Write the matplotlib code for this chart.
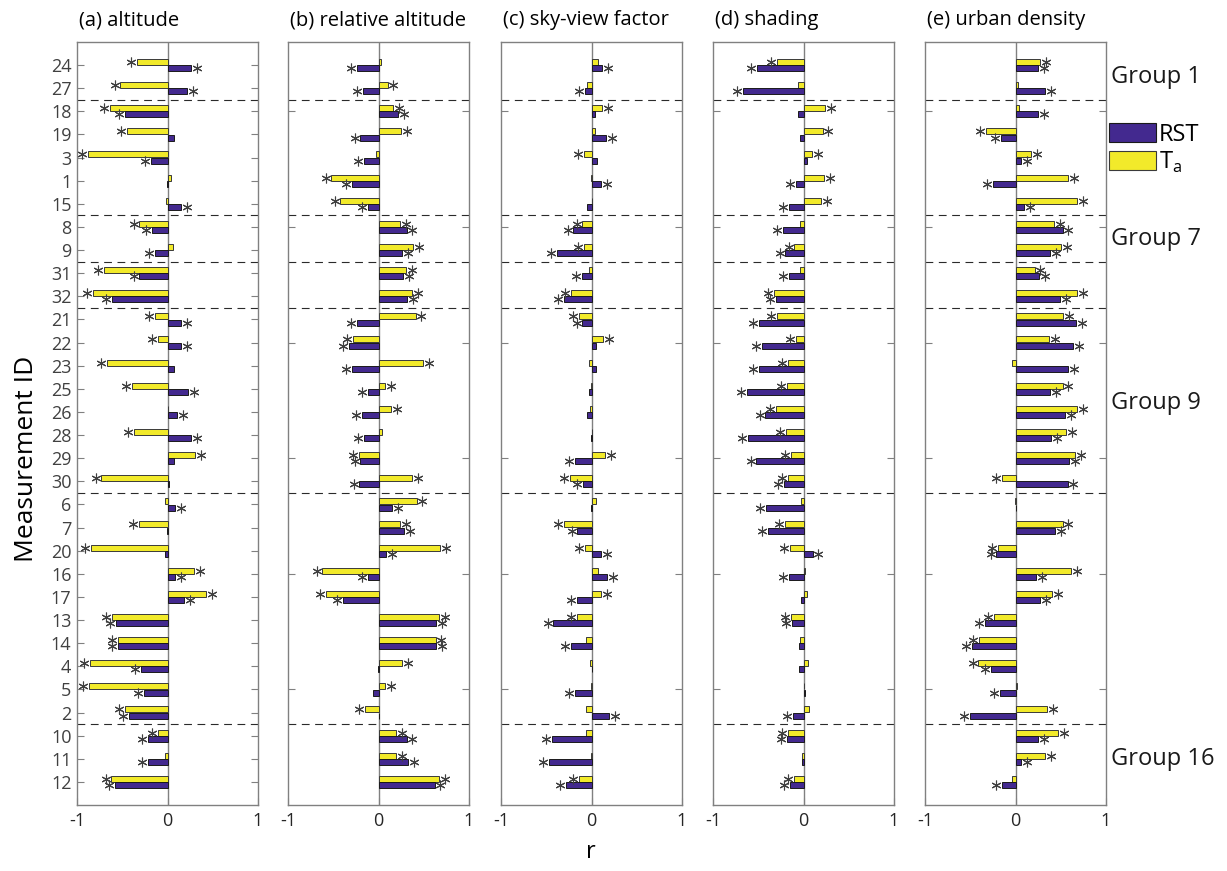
import matplotlib
matplotlib.use('Agg')
import matplotlib.pyplot as plt
from matplotlib.patches import Patch

plt.rcParams['font.family'] = ['Open Sans', 'DejaVu Sans']

ids = [24, 27, 18, 19, 3, 1, 15, 8, 9, 31, 32, 21, 22, 23, 25, 26,
       28, 29, 30, 6, 7, 20, 16, 17, 13, 14, 4, 5, 2, 10, 11, 12]

titles = ['(a) altitude', '(b) relative altitude', '(c) sky-view factor',
          '(d) shading', '(e) urban density']

# correlation with air temperature (Ta)
ta_a = [-0.34, -0.52, -0.64, -0.45, -0.88, 0.04, -0.015, -0.31, 0.06, -0.70, -0.82, -0.14, -0.11, -0.67, -0.39, 0.005,
        -0.37, 0.30, -0.73, -0.03, -0.32, -0.85, 0.29, 0.43, -0.61, -0.55, -0.86, -0.87, -0.47, -0.11, -0.03, -0.62]
ta_b = [0.03, 0.10, 0.16, 0.25, -0.03, -0.52, -0.42, 0.24, 0.38, 0.30, 0.37, 0.41, -0.28, 0.49, 0.07, 0.14,
        0.04, -0.22, 0.37, 0.42, 0.24, 0.68, -0.62, -0.58, 0.67, 0.63, 0.26, 0.07, -0.15, 0.19, 0.19, 0.67]
ta_c = [0.07, -0.055, 0.12, 0.04, -0.085, -0.01, 0.01, -0.10, -0.085, -0.025, -0.23, -0.14, 0.13, -0.025, -0.004, -0.02,
        0.01, 0.15, -0.24, 0.05, -0.30, -0.07, 0.07, 0.11, -0.16, -0.06, -0.015, -0.008, -0.06, -0.06, -0.004, -0.14]
ta_d = [-0.29, -0.06, 0.24, 0.21, 0.09, 0.23, 0.19, -0.04, -0.10, -0.04, -0.33, -0.29, -0.08, -0.17, -0.18, -0.305,
        -0.19, -0.14, -0.17, -0.025, -0.205, -0.15, 0.015, 0.04, -0.14, -0.04, 0.05, 0.01, 0.06, -0.17, -0.015, -0.11]
ta_e = [0.275, 0.03, 0.04, -0.33, 0.17, 0.58, 0.685, 0.43, 0.50, 0.21, 0.68, 0.53, 0.37, -0.035, 0.52, 0.68,
        0.56, 0.655, -0.15, -0.01, 0.52, -0.19, 0.61, 0.40, -0.235, -0.40, -0.41, 0.02, 0.345, 0.47, 0.33, -0.035]

# correlation with road surface temperature (RST)
rst_a = [0.26, 0.22, -0.47, 0.07, -0.18, -0.01, 0.15, -0.17, -0.14, -0.31, -0.61, 0.15, 0.15, 0.07, 0.23, 0.11,
         0.26, 0.07, 0.015, 0.08, -0.005, -0.03, 0.08, 0.18, -0.57, -0.55, -0.29, -0.26, -0.43, -0.22, -0.22, -0.58]
rst_b = [-0.24, -0.17, 0.22, -0.20, -0.16, -0.29, -0.12, 0.31, 0.26, 0.27, 0.32, -0.24, -0.33, -0.29, -0.12, -0.18,
         -0.16, -0.20, -0.21, 0.15, 0.28, 0.08, -0.12, -0.39, 0.64, 0.64, -0.01, -0.06, 0.01, 0.31, 0.33, 0.62]
rst_c = [0.12, -0.07, 0.04, 0.16, 0.06, 0.11, -0.045, -0.20, -0.38, -0.11, -0.30, -0.10, 0.05, 0.05, -0.025, -0.055,
         -0.01, -0.18, -0.09, -0.01, -0.155, 0.11, 0.17, -0.165, -0.42, -0.23, 0.01, -0.18, 0.19, -0.44, -0.475, -0.28]
rst_d = [-0.51, -0.67, -0.06, -0.04, 0.04, -0.085, -0.16, -0.23, -0.20, -0.16, -0.30, -0.49, -0.46, -0.49, -0.625, -0.42,
         -0.61, -0.52, -0.22, -0.415, -0.39, 0.10, -0.16, -0.025, -0.125, -0.05, -0.045, 0.02, -0.115, -0.18, -0.02, -0.15]
rst_e = [0.25, 0.33, 0.25, -0.16, 0.065, -0.25, 0.09, 0.52, 0.385, 0.26, 0.49, 0.67, 0.64, 0.58, 0.385, 0.55,
         0.395, 0.59, 0.575, 0.01, 0.44, -0.21, 0.23, 0.275, -0.34, -0.48, -0.27, -0.17, -0.50, 0.25, 0.065, -0.145]

# significance flags (1 = asterisk)
ta_a_sig = [1, 1, 1, 1, 1, 0, 0, 1, 0, 1, 1, 1, 1, 1, 1, 0, 1, 1, 1, 0, 1, 1, 1, 1, 1, 1, 1, 1, 1, 1, 0, 1]
ta_b_sig = [0, 1, 1, 1, 0, 1, 1, 1, 1, 1, 1, 1, 1, 1, 1, 1, 0, 1, 1, 1, 1, 1, 1, 1, 1, 1, 1, 1, 1, 1, 1, 1]
ta_c_sig = [0, 0, 1, 0, 1, 0, 0, 1, 1, 0, 1, 1, 1, 0, 0, 0, 0, 1, 1, 0, 1, 1, 0, 1, 1, 0, 0, 0, 0, 0, 0, 1]
ta_d_sig = [1, 0, 1, 1, 1, 1, 1, 0, 1, 0, 1, 1, 1, 1, 1, 1, 1, 1, 1, 0, 1, 1, 0, 0, 1, 0, 0, 0, 0, 1, 0, 1]
ta_e_sig = [1, 0, 0, 1, 1, 1, 1, 1, 1, 1, 1, 1, 1, 0, 1, 1, 1, 1, 1, 0, 1, 1, 1, 1, 1, 1, 1, 0, 1, 1, 1, 0]

rst_a_sig = [1, 1, 1, 0, 1, 0, 1, 1, 1, 1, 1, 1, 1, 0, 1, 1, 1, 0, 0, 1, 0, 0, 1, 1, 1, 1, 1, 1, 1, 1, 1, 1]
rst_b_sig = [1, 1, 1, 1, 1, 1, 1, 1, 1, 1, 1, 1, 1, 1, 1, 1, 1, 1, 1, 1, 1, 1, 1, 1, 1, 1, 0, 0, 0, 1, 1, 1]
rst_c_sig = [1, 1, 0, 1, 0, 1, 0, 1, 1, 1, 1, 1, 0, 0, 0, 0, 0, 1, 1, 0, 1, 1, 1, 1, 1, 1, 0, 1, 1, 1, 1, 1]
rst_d_sig = [1, 1, 0, 0, 0, 1, 1, 1, 1, 1, 1, 1, 1, 1, 1, 1, 1, 1, 1, 1, 1, 1, 1, 0, 1, 0, 0, 0, 1, 1, 0, 1]
rst_e_sig = [1, 1, 1, 1, 1, 1, 1, 1, 1, 1, 1, 1, 1, 1, 1, 1, 1, 1, 1, 0, 1, 1, 1, 1, 1, 1, 1, 1, 1, 1, 1, 1]

# dashed separators sit between these rows (1-based row index)
group_breaks = [2, 7, 9, 11, 19, 29]
group_names = ['Group 1', 'Group 7', 'Group 9', 'Group 16']
group_rows = [1.5, 8.5, 15.6, 31.0]

ta_all = [ta_a, ta_b, ta_c, ta_d, ta_e]
rst_all = [rst_a, rst_b, rst_c, rst_d, rst_e]
ta_sig_all = [ta_a_sig, ta_b_sig, ta_c_sig, ta_d_sig, ta_e_sig]
rst_sig_all = [rst_a_sig, rst_b_sig, rst_c_sig, rst_d_sig, rst_e_sig]

purple = '#43298f'
yellow = '#f2ea2a'
grey = '#808080'

W, H = 1227, 871
fig = plt.figure(figsize=(W / 100, H / 100), dpi=100)

lefts = [77, 288, 501, 713, 925]
rows = list(range(1, len(ids) + 1))
axes = []

for k in range(5):
    ax = fig.add_axes([lefts[k] / W, (H - 805) / H, 181 / W, (805 - 42) / H])
    axes.append(ax)
    y_ta = [r - 0.135 for r in rows]
    y_rst = [r + 0.135 for r in rows]
    ax.barh(y_ta, ta_all[k], height=0.26, color=yellow, edgecolor='#3a3a3a', linewidth=0.7, zorder=3)
    ax.barh(y_rst, rst_all[k], height=0.26, color=purple, edgecolor='#1a1a1a', linewidth=0.7, zorder=3)

    # asterisks next to the bar ends
    for vals, sig, ys in [(ta_all[k], ta_sig_all[k], y_ta), (rst_all[k], rst_sig_all[k], y_rst)]:
        for v, s, y in zip(vals, sig, ys):
            if s:
                off = 0.065 if v >= 0 else -0.065
                ax.plot(v + off, y, marker=(6, 2, 0), ms=7, mec='#404040', mew=0.8,
                        ls='none', zorder=4)

    ax.axvline(0, color=grey, lw=1.0, zorder=2)
    for b in group_breaks:
        ax.axhline(b + 0.5, color='#2a2a2a', lw=0.8, ls=(0, (7, 5)), zorder=1)

    ax.set_xlim(-1, 1)
    ax.set_ylim(33, 0)
    ax.set_xticks([-1, 0, 1])
    ax.set_xticklabels(['-1', '0', '1'], fontsize=13, color='#262626')
    if k == 0:
        ax.set_yticks(rows)
        ax.set_yticklabels([str(i) for i in ids], fontsize=13, color='#404040')
    else:
        ax.set_yticks([3, 8, 13, 18, 23, 28])
        ax.set_yticklabels([])
    ax.tick_params(axis='both', direction='in', length=5, width=0.8, color=grey,
                   left=True, right=True, top=False, bottom=True, pad=5)
    ax.tick_params(axis='y', pad=4)
    for sp in ax.spines.values():
        sp.set_color(grey)
        sp.set_linewidth(1.0)
    ax.set_title(titles[k], loc='left', fontsize=14.5, pad=12, x=0.01)

# group labels to the right of the last panel
for name, r in zip(group_names, group_rows):
    axes[4].text(1.025, r, name, transform=axes[4].get_yaxis_transform(),
                 fontsize=17, va='center', ha='left', color='#1a1a1a')

handles = [Patch(facecolor=purple, edgecolor='#1a1a1a', linewidth=0.8),
           Patch(facecolor=yellow, edgecolor='#3a3a3a', linewidth=0.8)]
fig.legend(handles, ['RST', r'T$_\mathregular{a}$'], loc='upper left',
           bbox_to_anchor=(1109 / W, 1 - 123 / H), frameon=False, fontsize=17,
           handlelength=2.0, handleheight=0.85, labelspacing=0.1,
           handletextpad=0.1, borderpad=0, borderaxespad=0)

fig.text(591 / W, 1 - 852 / H, 'r', fontsize=17, ha='center', va='center')
fig.text(27 / W, 1 - 459 / H, 'Measurement ID', fontsize=19, rotation=90,
         ha='center', va='center')

fig.savefig('out.png', dpi=100)
